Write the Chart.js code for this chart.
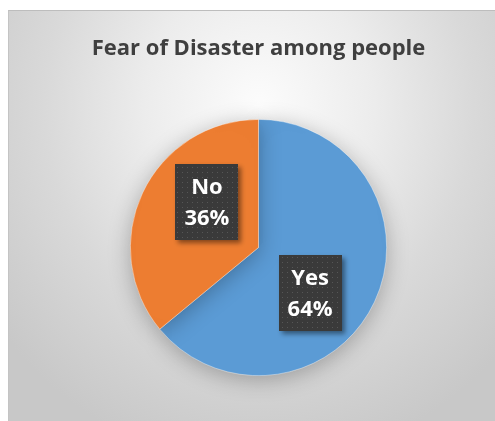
<!DOCTYPE html>
<html>
<head>
<meta charset="utf-8">
<script src="https://cdn.jsdelivr.net/npm/chart.js@4.4.1/dist/chart.umd.min.js"></script>
<style>
  html, body { margin: 0; padding: 0; background: #ffffff; }
  #wrap { position: relative; width: 495px; height: 421px; overflow: hidden; }
  #frame {
    position: absolute; left: 8px; top: 10px; width: 500px; height: 420px;
    border-left: 1px solid #c4c4c4; border-top: 1px solid #bdbdbd;
    background: radial-gradient(ellipse 330px 360px at 250px 95px, #fcfcfc 0%, #ececec 35%, #d9d9d9 65%, #c8c8c8 100%);
  }
  #chart { position: absolute; left: 0; top: 0; }
</style>
</head>
<body>
<div id="wrap">
  <div id="frame"></div>
  <canvas id="chart" width="495" height="421"></canvas>
</div>
<script>
const chartTitle = 'Fear of Disaster among people';
const categories = ['Yes', 'No'];
const shares = [64, 36];
const sliceColors = ['#5b9bd5', '#ed7d31'];

// Dark dotted fill used behind the data labels
function dottedPattern(ctx) {
  const tile = document.createElement('canvas');
  tile.width = 5; tile.height = 5;
  const t = tile.getContext('2d');
  t.fillStyle = '#3a3a3a';
  t.fillRect(0, 0, 5, 5);
  t.fillStyle = '#565656';
  t.fillRect(2, 2, 1, 1);
  return ctx.createPattern(tile, 'repeat');
}

// Soft shadow under the pie
const pieShadow = {
  id: 'pieShadow',
  beforeDatasetsDraw(chart) {
    const ctx = chart.ctx;
    ctx.save();
    ctx.shadowColor = 'rgba(0,0,0,0.28)';
    ctx.shadowBlur = 22;
    ctx.shadowOffsetY = 4;
  },
  afterDatasetsDraw(chart) {
    chart.ctx.restore();
  }
};

// Boxed "category / percent" labels inside each slice
const boxedLabels = {
  id: 'boxedLabels',
  afterDatasetsDraw(chart, args, opts) {
    const ctx = chart.ctx;
    const meta = chart.getDatasetMeta(0);
    const fill = dottedPattern(ctx);
    const values = chart.data.datasets[0].data;
    meta.data.forEach((arc, i) => {
      const p = arc.getProps(['x', 'y', 'startAngle', 'endAngle', 'outerRadius'], true);
      const mid = (p.startAngle + p.endAngle) / 2 + opts.turn;
      const r = p.outerRadius * opts.radial;
      const cx = p.x + Math.cos(mid) * r;
      const cy = p.y + Math.sin(mid) * r;
      const lines = [chart.data.labels[i], values[i] + '%'];
      ctx.save();
      ctx.font = opts.font;
      const w = Math.max(...lines.map(s => ctx.measureText(s).width)) + opts.padX * 2;
      const h = opts.lineHeight * lines.length + opts.padY * 2;
      const bx = Math.round(cx - w / 2), by = Math.round(cy - h / 2);
      ctx.shadowColor = 'rgba(0,0,0,0.45)';
      ctx.shadowBlur = 5;
      ctx.shadowOffsetX = 3;
      ctx.shadowOffsetY = 3;
      ctx.fillStyle = fill;
      ctx.fillRect(bx, by, Math.round(w), Math.round(h));
      ctx.shadowColor = 'transparent';
      ctx.fillStyle = '#ffffff';
      ctx.textAlign = 'center';
      ctx.textBaseline = 'middle';
      lines.forEach((s, k) => {
        ctx.fillText(s, cx, by + opts.padY + opts.lineHeight * (k + 0.5) + 1);
      });
      ctx.restore();
    });
  }
};

new Chart(document.getElementById('chart'), {
  type: 'pie',
  data: {
    labels: categories,
    datasets: [{
      data: shares,
      backgroundColor: sliceColors,
      borderColor: 'rgba(255,255,255,0.5)',
      borderWidth: 0.75
    }]
  },
  options: {
    responsive: false,
    animation: false,
    events: [],
    layout: { padding: { left: 22, right: 0, top: 0, bottom: 45 } },
    plugins: {
      legend: { display: false },
      tooltip: { enabled: false },
      title: {
        display: true,
        text: chartTitle,
        color: '#3f3f3f',
        font: { family: '"Open Sans"', size: 22, weight: 'bold', lineHeight: 1.2 },
        padding: { top: 36, bottom: 56.6 }
      },
      boxedLabels: {
        font: 'bold 22px "Open Sans"',
        lineHeight: 31,
        padX: 9,
        padY: 7,
        turn: 16 * Math.PI / 180,
        radial: 0.535
      }
    }
  },
  plugins: [pieShadow, boxedLabels]
});
</script>
</body>
</html>
